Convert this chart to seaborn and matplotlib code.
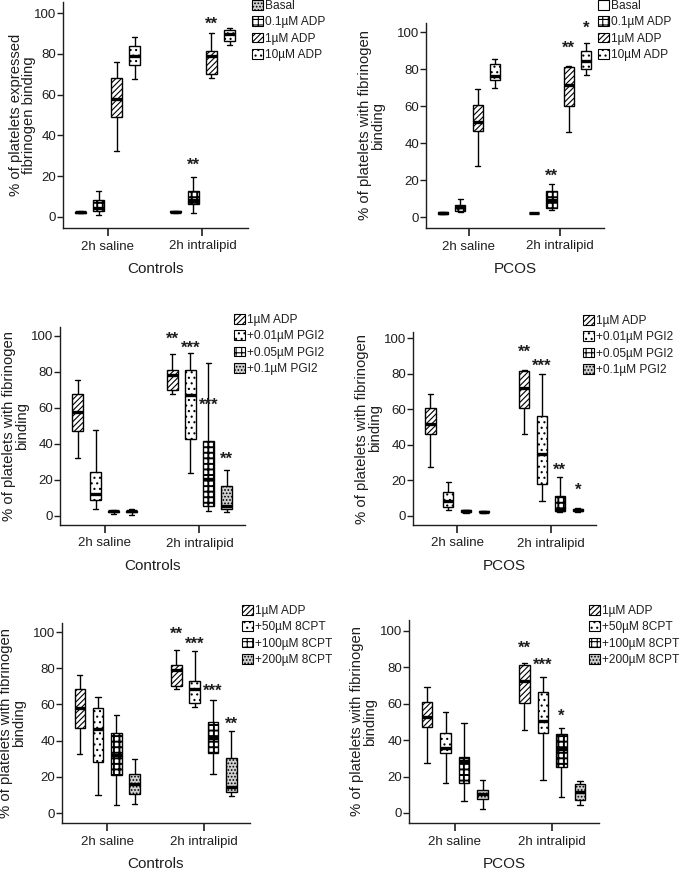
import numpy as np
import pandas as pd
import seaborn as sns
import matplotlib.pyplot as plt
from matplotlib.patches import Patch
from matplotlib.colors import to_hex

sns.set_style('ticks')
plt.rcParams['font.family'] = ['Liberation Sans', 'DejaVu Sans']
plt.rcParams['hatch.linewidth'] = 0.8

conditions = ['2h saline', '2h intralipid']
adp_levels = ['Basal', '0.1µM ADP', '1µM ADP', '10µM ADP']
pgi_levels = ['1µM ADP', '+0.01µM PGI2', '+0.05µM PGI2', '+0.1µM PGI2']
cpt_levels = ['1µM ADP', '+50µM 8CPT', '+100µM 8CPT', '+200µM 8CPT']

# five numbers per box: min, q1, median, q3, max
ctrl_adp_saline = [[1.8, 2.0, 2.3, 2.6, 2.8], [0.8, 3.0, 4.5, 8.2, 12.6],
                   [32.3, 49, 58, 68, 76], [67.7, 74.4, 79, 84, 88.2]]
ctrl_adp_intra = [[2.0, 2.3, 2.6, 2.9, 3.1], [2.1, 6.6, 8.5, 12.8, 19.7],
                  [67.9, 70.2, 79, 81.5, 90.2], [84.3, 86.4, 89.7, 91.8, 92.5]]
pcos_adp_saline = [[1.5, 1.8, 2.2, 2.6, 2.9], [2.5, 3.2, 5.4, 6.3, 9.9],
                   [27.7, 46.3, 51.2, 60.5, 69.2], [69.7, 73.9, 76.4, 82.9, 85.4]]
pcos_adp_intra = [[2.0, 2.1, 2.2, 2.3, 2.4], [3.6, 4.9, 9.4, 13.9, 18.0],
                  [45.9, 59.8, 71.4, 80.9, 81.8], [76.8, 80.0, 84.5, 89.5, 94.0]]

ctrl_pgi_saline = [[32.2, 47.0, 57.8, 67.6, 75.7], [3.7, 8.7, 12.0, 24.4, 47.6],
                   [0.9, 2.0, 2.5, 3.0, 3.3], [0.8, 2.0, 2.5, 3.0, 3.8]]
ctrl_pgi_intra = [[67.6, 69.8, 78.5, 81.3, 90.2], [23.9, 42.6, 67.4, 81.3, 90.6],
                  [2.8, 5.4, 20.7, 41.5, 85.0], [2.2, 4.1, 5.4, 16.7, 25.4]]
pcos_pgi_saline = [[27.6, 46.0, 51.5, 60.5, 68.6], [3.2, 5.1, 8.5, 13.5, 19.2],
                   [1.8, 2.2, 2.6, 3.2, 3.6], [1.9, 2.1, 2.4, 2.7, 3.0]]
pcos_pgi_intra = [[45.9, 60.5, 71.8, 81.2, 82.0], [8.3, 18.2, 34.8, 56.2, 79.9],
                  [2.4, 2.8, 3.2, 11.1, 22.0], [2.0, 2.6, 3.2, 3.8, 4.3]]

ctrl_cpt_saline = [[32.5, 47.2, 58.2, 68.3, 76.1], [10.1, 28.1, 46.4, 58.2, 64.2],
                   [4.2, 21.1, 32.1, 44.0, 54.1], [5.0, 10.6, 16.1, 21.5, 29.9]]
ctrl_cpt_intra = [[68.3, 70.1, 79.3, 81.7, 90.3], [58.7, 60.6, 68.8, 73.0, 89.4],
                  [21.7, 33.0, 41.7, 50.5, 62.4], [9.2, 11.6, 14.3, 30.6, 45.5]]
pcos_cpt_saline = [[27.5, 47.3, 52.7, 61.0, 69.2], [16.5, 33.0, 35.9, 44.0, 55.5],
                   [6.6, 16.7, 28.4, 30.8, 49.5], [2.4, 7.9, 10.6, 12.5, 18.3]]
pcos_cpt_intra = [[45.8, 60.4, 72.5, 81.5, 82.4], [18.3, 44.1, 50.4, 66.5, 74.7],
                  [8.8, 25.3, 35.3, 43.2, 46.9], [4.2, 7.0, 11.5, 15.8, 17.4]]

# significance marks: (condition, treatment index, text, height)
ctrl_adp_stars = [(1, 2, '**', 96), (1, 1, '**', 27)]
pcos_adp_stars = [(1, 3, '*', 103.5), (1, 2, '**', 93), (1, 1, '**', 24)]
ctrl_pgi_stars = [(1, 0, '**', 100), (1, 1, '***', 95), (1, 2, '***', 63), (1, 3, '**', 33)]
pcos_pgi_stars = [(1, 0, '**', 94), (1, 1, '***', 86), (1, 2, '**', 27.6), (1, 3, '*', 16)]
ctrl_cpt_stars = [(1, 0, '**', 100.5), (1, 1, '***', 95), (1, 2, '***', 69), (1, 3, '**', 51)]
pcos_cpt_stars = [(1, 0, '**', 92), (1, 1, '***', 83), (1, 2, '*', 55)]

patterns = {
    'grey': ('#d0d0d0', '.....'),
    'plus': ('white', '+++'),
    'stripe': ('white', '//////'),
    'dots': ('white', '...'),
    'blank': ('white', ''),
}

ylab_a = '% of platelets expressed\nfibrinogen binding'
ylab_b = '% of platelets with fibrinogen\nbinding'

panels = [
    dict(levels=adp_levels, data=(ctrl_adp_saline, ctrl_adp_intra), stars=ctrl_adp_stars,
         styles=['grey', 'plus', 'stripe', 'dots'], xlabel='Controls', ylabel=ylab_a,
         rect=(63, 2, 248, 228), ylim=(-5.4, 105.4), ydx=-27, leg=(252, 0)),
    dict(levels=adp_levels, data=(pcos_adp_saline, pcos_adp_intra), stars=pcos_adp_stars,
         styles=['blank', 'plus', 'stripe', 'dots'], xlabel='PCOS', ylabel=ylab_b,
         rect=(426, 23, 604, 228), ylim=(-5.9, 104.9), ydx=-41, leg=(598, 0)),
    dict(levels=pgi_levels, data=(ctrl_pgi_saline, ctrl_pgi_intra), stars=ctrl_pgi_stars,
         styles=['stripe', 'dots', 'plus', 'grey'], xlabel='Controls', ylabel=ylab_b,
         rect=(60, 327, 245, 525), ylim=(-5, 105), ydx=-31, leg=(234, 314)),
    dict(levels=pgi_levels, data=(pcos_pgi_saline, pcos_pgi_intra), stars=pcos_pgi_stars,
         styles=['stripe', 'dots', 'plus', 'grey'], xlabel='PCOS', ylabel=ylab_b,
         rect=(413, 332, 596, 525), ylim=(-5.1, 103.4), ydx=-31, leg=(583, 315)),
    dict(levels=cpt_levels, data=(ctrl_cpt_saline, ctrl_cpt_intra), stars=ctrl_cpt_stars,
         styles=['stripe', 'dots', 'plus', 'grey'], xlabel='Controls', ylabel=ylab_b,
         rect=(62, 623, 250, 823), ylim=(-5.5, 105), ydx=-36, leg=(242, 605)),
    dict(levels=cpt_levels, data=(pcos_cpt_saline, pcos_cpt_intra), stars=pcos_cpt_stars,
         styles=['stripe', 'dots', 'plus', 'grey'], xlabel='PCOS', ylabel=ylab_b,
         rect=(409, 620, 599, 823), ylim=(-5.5, 106), ydx=-32, leg=(589, 605)),
]


def make_df(levels, saline, intra):
    rows = []
    for cond, boxes in zip(conditions, [saline, intra]):
        for lev, vals in zip(levels, boxes):
            for v in vals:
                rows.append((cond, lev, v))
    return pd.DataFrame(rows, columns=['cond', 'treat', 'pct'])


W, H = 682, 871
txt = '#1e1e1e'
fig = plt.figure(figsize=(W / 100, H / 100), dpi=100)
keys = ['#ff0000', '#00ff00', '#0000ff', '#ff00ff']
box_w = 0.76

for p in panels:
    l, t, r, b = p['rect']
    ax = fig.add_axes([l / W, 1 - b / H, (r - l) / W, (b - t) / H])
    df = make_df(p['levels'], *p['data'])
    pal = dict(zip(p['levels'], keys))
    sns.boxplot(data=df, x='cond', y='pct', hue='treat', order=conditions,
                hue_order=p['levels'], palette=pal, saturation=1, whis=(0, 100),
                width=box_w, gap=0.42, linecolor='black', linewidth=1,
                medianprops=dict(linewidth=2.4), legend=False, ax=ax)

    style = dict(zip(keys, p['styles']))
    for patch in ax.patches:
        name = style[to_hex(patch.get_facecolor())]
        fc, hatch = patterns[name]
        patch.set_facecolor(fc)
        patch.set_hatch(hatch)
        patch.set_edgecolor('black')
        if name == 'plus' and hasattr(patch, 'set_hatch_linewidth'):
            patch.set_hatch_linewidth(1.4)

    step = box_w / 4
    for ci, hi, s, y in p['stars']:
        ax.annotate(s, (ci + (hi - 1.5) * step, y), xytext=(0, -5.5),
                    textcoords='offset points', ha='center', va='baseline',
                    fontsize=12, fontweight='bold', color=txt)

    ax.set_xlim(-0.47, 1.48)
    ax.set_ylim(*p['ylim'])
    ax.set_yticks(range(0, 101, 20))
    ax.tick_params(axis='y', length=4, width=1, labelsize=9.5, pad=1, colors=txt)
    ax.tick_params(axis='x', length=6, width=1.2, labelsize=9.5, pad=3, colors=txt)
    ax.set_xlabel(p['xlabel'], fontsize=11, labelpad=7, color=txt)
    ax.set_ylabel(p['ylabel'], fontsize=10.75, linespacing=0.88, color=txt)
    ax.yaxis.set_label_coords(p['ydx'] / (r - l), 0.5)
    sns.despine(ax=ax)
    for sp in ['left', 'bottom']:
        ax.spines[sp].set_color(txt)
        ax.spines[sp].set_linewidth(1)

    handles = [Patch(facecolor=patterns[s][0], hatch=patterns[s][1],
                     edgecolor='black', linewidth=0.8) for s in p['styles']]
    lx, ly = p['leg']
    ax.legend(handles, p['levels'], loc='upper left',
              bbox_to_anchor=(lx / W, 1 - ly / H), bbox_transform=fig.transFigure,
              frameon=False, fontsize=8.6, handlelength=0.9, handleheight=0.9,
              handletextpad=0.2, labelspacing=0.35, borderpad=0, borderaxespad=0,
              labelcolor=txt)

fig.savefig('out.png', dpi=100)
